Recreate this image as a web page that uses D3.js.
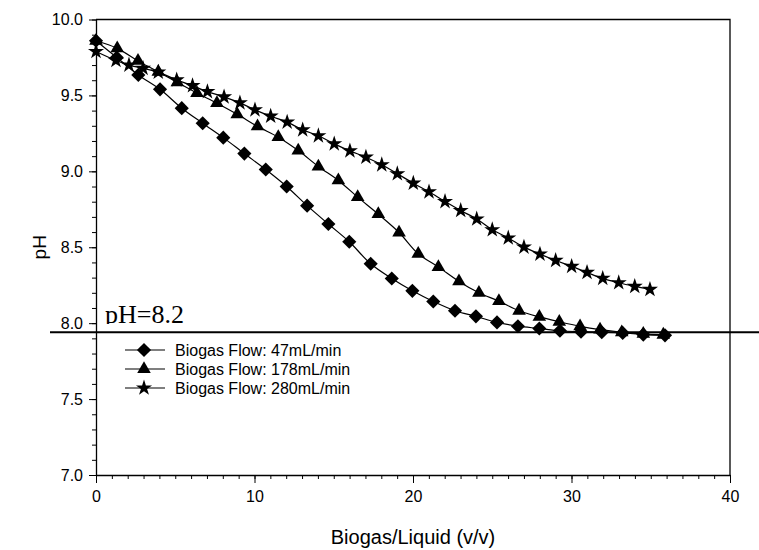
<!DOCTYPE html>
<html>
<head>
<meta charset="utf-8">
<script src="https://cdn.jsdelivr.net/npm/d3@7"></script>
<style>
  body { margin: 0; background: #fff; }
  svg { display: block; }
</style>
</head>
<body>
<script>
// pH against biogas/liquid ratio for three gas flows

var flow47_x = [0, 1.31, 2.67, 4.04, 5.41, 6.73, 8.03, 9.36, 10.71, 12.03, 13.32, 14.66, 15.98, 17.33,
  18.66, 19.96, 21.28, 22.65, 23.97, 25.30, 26.62, 27.97, 29.27, 30.60, 31.91, 33.23, 34.53, 35.90];
var flow47_ph = [9.86, 9.75, 9.635, 9.54, 9.416, 9.317, 9.222, 9.117, 9.012, 8.90, 8.774, 8.653, 8.536, 8.391,
  8.294, 8.213, 8.143, 8.082, 8.045, 8.005, 7.98, 7.965, 7.95, 7.944, 7.94, 7.936, 7.925, 7.92];

var flow178_x = [0, 1.34, 2.65, 3.93, 5.13, 6.37, 7.63, 8.91, 10.19, 11.5, 12.76, 14.03, 15.29, 16.51, 17.81,
  19.12, 20.33, 21.60, 22.90, 24.16, 25.42, 26.69, 27.97, 29.23, 30.54, 31.80, 33.17, 34.53, 35.79];
var flow178_ph = [9.86, 9.81, 9.727, 9.655, 9.586, 9.516, 9.449, 9.376, 9.296, 9.225, 9.137, 9.032, 8.94, 8.83, 8.718,
  8.597, 8.457, 8.37, 8.275, 8.20, 8.145, 8.082, 8.041, 8.009, 7.979, 7.957, 7.94, 7.929, 7.924];

var flow280_x = [0, 1.26, 2.08, 2.97, 3.93, 5.09, 6.09, 7.03, 8.08, 9.08, 10.03, 11.02, 12.06, 13.04, 14.03,
  15.03, 16.02, 17.03, 18.03, 19.01, 20.02, 21.01, 22.02, 23.01, 24.02, 25.0, 26.01, 27.0, 28.01, 29.0,
  30.01, 30.98, 31.97, 32.98, 33.99, 34.95];
var flow280_ph = [9.789, 9.73, 9.70, 9.678, 9.653, 9.602, 9.564, 9.525, 9.49, 9.451, 9.405, 9.363, 9.324, 9.273, 9.234,
  9.181, 9.135, 9.093, 9.043, 8.984, 8.922, 8.865, 8.801, 8.742, 8.686, 8.615, 8.561, 8.501, 8.455, 8.413,
  8.374, 8.334, 8.295, 8.266, 8.242, 8.222];

var seriesNames = ["Biogas Flow: 47mL/min", "Biogas Flow: 178mL/min", "Biogas Flow: 280mL/min"];
var xTicks = [0, 10, 20, 30, 40];
var yTicks = [7.0, 7.5, 8.0, 8.5, 9.0, 9.5, 10.0];
var limitPh = 7.94;
var limitLabel = "pH=8.2";

var width = 759, height = 550;
var plotLeft = 96, plotRight = 730, plotTop = 19.5, plotBottom = 475;

var svg = d3.select("body").append("svg")
  .attr("width", width)
  .attr("height", height)
  .attr("font-family", "Liberation Sans, Arial, sans-serif");

var x = d3.scaleLinear().domain([0, 40]).range([plotLeft, plotRight]);
var y = d3.scaleLinear().domain([7, 10]).range([plotBottom, plotTop]);

// frame: top and right edges
svg.append("path")
  .attr("d", "M" + plotLeft + "," + plotTop + "H" + plotRight + "V" + plotBottom)
  .attr("fill", "none")
  .attr("stroke", "#000")
  .attr("stroke-width", 1.3);

// x axis, minor ticks every 1
svg.append("g")
  .attr("transform", "translate(0," + plotBottom + ")")
  .call(d3.axisBottom(x).tickValues(d3.range(0, 41, 1)).tickSize(4).tickFormat(""))
  .call(function (g) { g.select(".domain").remove(); });
svg.append("g")
  .attr("transform", "translate(0," + plotBottom + ")")
  .call(d3.axisBottom(x).tickValues(xTicks).tickSize(8).tickPadding(8).tickSizeOuter(0)
    .tickFormat(d3.format("d")))
  .call(function (g) {
    g.select(".domain").attr("stroke-width", 1.3);
    g.selectAll("text").attr("font-size", 16).attr("font-family", "Liberation Sans");
  });

// y axis, minor ticks every 0.1
svg.append("g")
  .attr("transform", "translate(" + plotLeft + ",0)")
  .call(d3.axisLeft(y).tickValues(d3.range(70, 101, 1).map(function (d) { return d / 10; })).tickSize(4).tickFormat(""))
  .call(function (g) { g.select(".domain").remove(); });
svg.append("g")
  .attr("transform", "translate(" + plotLeft + ",0)")
  .call(d3.axisLeft(y).tickValues(yTicks).tickSize(7).tickPadding(6).tickSizeOuter(0)
    .tickFormat(d3.format(".1f")))
  .call(function (g) {
    g.select(".domain").attr("stroke-width", 1.3);
    g.selectAll("text").attr("font-size", 16).attr("font-family", "Liberation Sans");
  });

svg.selectAll(".tick line").attr("stroke-width", 1);

// axis titles
svg.append("text")
  .attr("x", (plotLeft + plotRight) / 2)
  .attr("y", 544)
  .attr("text-anchor", "middle")
  .attr("font-size", 20)
  .text("Biogas/Liquid (v/v)");

svg.append("text")
  .attr("transform", "translate(46," + ((plotTop + plotBottom) / 2) + ") rotate(-90)")
  .attr("text-anchor", "middle")
  .attr("font-size", 19)
  .text("pH");

// marker shapes
var diamond = d3.symbol().type(d3.symbolSquare).size(100)();
var triangle = d3.symbol().type(d3.symbolTriangle).size(80)();
var star = d3.symbol().type(d3.symbolStar).size(80)();

var series = [
  { name: seriesNames[0], xs: flow47_x, ys: flow47_ph, shape: diamond, rot: 45 },
  { name: seriesNames[1], xs: flow178_x, ys: flow178_ph, shape: triangle, rot: 0 },
  { name: seriesNames[2], xs: flow280_x, ys: flow280_ph, shape: star, rot: 0 }
];

var line = d3.line()
  .x(function (d) { return x(d[0]); })
  .y(function (d) { return y(d[1]); })
  .curve(d3.curveCatmullRom.alpha(0.5));

series.forEach(function (s) {
  var pts = d3.zip(s.xs, s.ys);
  svg.append("path")
    .datum(pts)
    .attr("d", line)
    .attr("fill", "none")
    .attr("stroke", "#000")
    .attr("stroke-width", 1.2);
  svg.selectAll(null)
    .data(pts)
    .enter()
    .append("path")
    .attr("d", s.shape)
    .attr("transform", function (d) {
      return "translate(" + x(d[0]) + "," + y(d[1]) + ") rotate(" + s.rot + ")";
    })
    .attr("fill", "#000");
});

// pH label, its descender hidden behind the legend box
svg.append("text")
  .attr("x", 105)
  .attr("y", 323)
  .attr("font-family", "Liberation Serif, Times New Roman, serif")
  .attr("font-size", 26)
  .text(limitLabel);

var legend = svg.append("g");
legend.append("rect")
  .attr("x", 100).attr("y", 324)
  .attr("width", 275).attr("height", 78)
  .attr("fill", "#fff");

series.forEach(function (s, i) {
  var ly = 350 + i * 19;
  legend.append("line")
    .attr("x1", 125).attr("x2", 165)
    .attr("y1", ly).attr("y2", ly)
    .attr("stroke", "#000")
    .attr("stroke-width", 1.2);
  legend.append("path")
    .attr("d", s.shape)
    .attr("transform", "translate(144," + ly + ") rotate(" + s.rot + ")")
    .attr("fill", "#000");
  legend.append("text")
    .attr("x", 175)
    .attr("y", ly)
    .attr("dy", "0.36em")
    .attr("font-size", 16)
    .text(s.name);
});

// limit line across the plot
svg.append("line")
  .attr("x1", 50).attr("x2", width)
  .attr("y1", y(limitPh)).attr("y2", y(limitPh))
  .attr("stroke", "#000")
  .attr("stroke-width", 2);
</script>
</body>
</html>
